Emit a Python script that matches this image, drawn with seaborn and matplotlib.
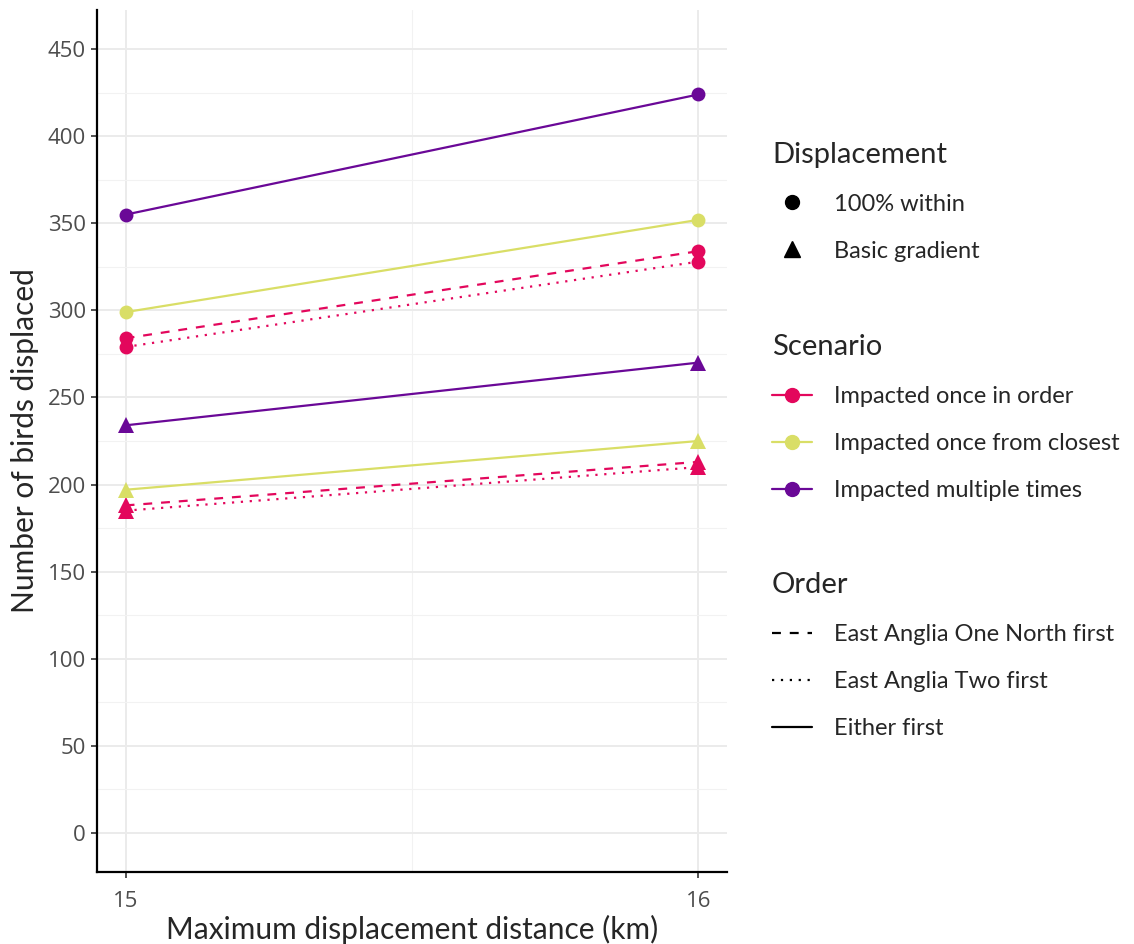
import seaborn as sns
import numpy as np
import pandas as pd
import matplotlib.pyplot as plt
from matplotlib.lines import Line2D

# data
distance = [15, 16]
scenarios = ["Impacted once in order", "Impacted once from closest", "Impacted multiple times"]
orders = ["East Anglia One North first", "East Anglia Two first", "Either first"]
displacements = ["100% within", "Basic gradient"]
y_ticks = [0, 50, 100, 150, 200, 250, 300, 350, 400, 450]

# 100% within
within_order_eaon = [284, 334]
within_order_ea2 = [279, 328]
within_closest = [299, 352]
within_multiple = [355, 424]
# basic gradient
basic_order_eaon = [188, 213]
basic_order_ea2 = [185, 210]
basic_closest = [197, 225]
basic_multiple = [234, 270]

series = [
    ("100% within", scenarios[0], orders[0], within_order_eaon),
    ("100% within", scenarios[0], orders[1], within_order_ea2),
    ("100% within", scenarios[1], orders[2], within_closest),
    ("100% within", scenarios[2], orders[2], within_multiple),
    ("Basic gradient", scenarios[0], orders[0], basic_order_eaon),
    ("Basic gradient", scenarios[0], orders[1], basic_order_ea2),
    ("Basic gradient", scenarios[1], orders[2], basic_closest),
    ("Basic gradient", scenarios[2], orders[2], basic_multiple),
]
rows = []
for disp, scen, order, vals in series:
    for d, v in zip(distance, vals):
        rows.append({"distance": d, "birds": v, "Scenario": scen, "Order": order, "Displacement": disp})
df = pd.DataFrame(rows)

palette = {scenarios[0]: "#E3075C", scenarios[1]: "#D9DE66", scenarios[2]: "#6A0897"}
dashes = {orders[0]: (4, 4), orders[1]: (1, 3), orders[2]: ""}
marker_of = {"100% within": "o", "Basic gradient": "^"}
msize = {"100% within": 10, "Basic gradient": 11.5}

sns.set_style("white")
plt.rcParams["font.family"] = ["Lato", "DejaVu Sans"]

fig = plt.figure(figsize=(11.34, 9.44), dpi=100)
ax = fig.add_axes([0.0855, 0.0763, 0.5556, 0.9131])

for disp in displacements:
    sub = df[df["Displacement"] == disp]
    sns.lineplot(data=sub, x="distance", y="birds", hue="Scenario", style="Order",
                 palette=palette, dashes=dashes,
                 markers={o: marker_of[disp] for o in orders},
                 markersize=msize[disp], markeredgewidth=0, linewidth=1.6,
                 ax=ax, legend=False)

tick_font = dict(fontsize=16, fontfamily=["Open Sans", "DejaVu Sans"], color="#4D4D4D")
ax.set_xlim(14.95, 16.05)
ax.set_ylim(-22.5, 472.5)
ax.set_xticks(distance, labels=[str(d) for d in distance], **tick_font)
ax.set_xticks([15.5], minor=True)
ax.set_yticks(y_ticks, labels=[str(t) for t in y_ticks], **tick_font)
ax.set_yticks(np.arange(25, 451, 50), minor=True)
ax.grid(True, which="major", color="#EBEBEB", linewidth=1.4)
ax.grid(True, which="minor", color="#F2F2F2", linewidth=0.8)
ax.set_axisbelow(True)
for s in ["top", "right"]:
    ax.spines[s].set_visible(False)
for s in ["left", "bottom"]:
    ax.spines[s].set_color("black")
    ax.spines[s].set_linewidth(1.6)
ax.tick_params(which="major", direction="out", length=4, width=1.2, color="#333333",
               left=True, bottom=True, pad=4)
ax.tick_params(axis="x", which="major", pad=10)
ax.tick_params(which="minor", length=0)
ax.set_xlabel("Maximum displacement distance (km)", fontsize=21.5, labelpad=2)
ax.set_ylabel("Number of birds displaced", fontsize=21.5, labelpad=6)

# legends
def make_legend(handles, labels, title, top):
    leg = fig.legend(handles, labels, title=title, loc="upper left",
                     bbox_to_anchor=(0.6725, top), frameon=False,
                     fontsize=17, title_fontsize=21, alignment="left",
                     handlelength=1.7, handletextpad=0.93, labelspacing=1.1,
                     borderaxespad=0)
    return leg

h1 = [Line2D([], [], color="black", marker="o", linestyle="", markersize=10),
      Line2D([], [], color="black", marker="^", linestyle="", markersize=11)]
make_legend(h1, displacements, "Displacement", 0.860)
h2 = [Line2D([], [], color=palette[s], marker="o", markersize=10, linewidth=1.6) for s in scenarios]
make_legend(h2, scenarios, "Scenario", 0.656)
h3 = [Line2D([], [], color="black", linewidth=1.6, dashes=dashes[o]) if dashes[o] else
      Line2D([], [], color="black", linewidth=1.6) for o in orders]
make_legend(h3, orders, "Order", 0.4036)

fig.savefig("out.png", dpi=100)
